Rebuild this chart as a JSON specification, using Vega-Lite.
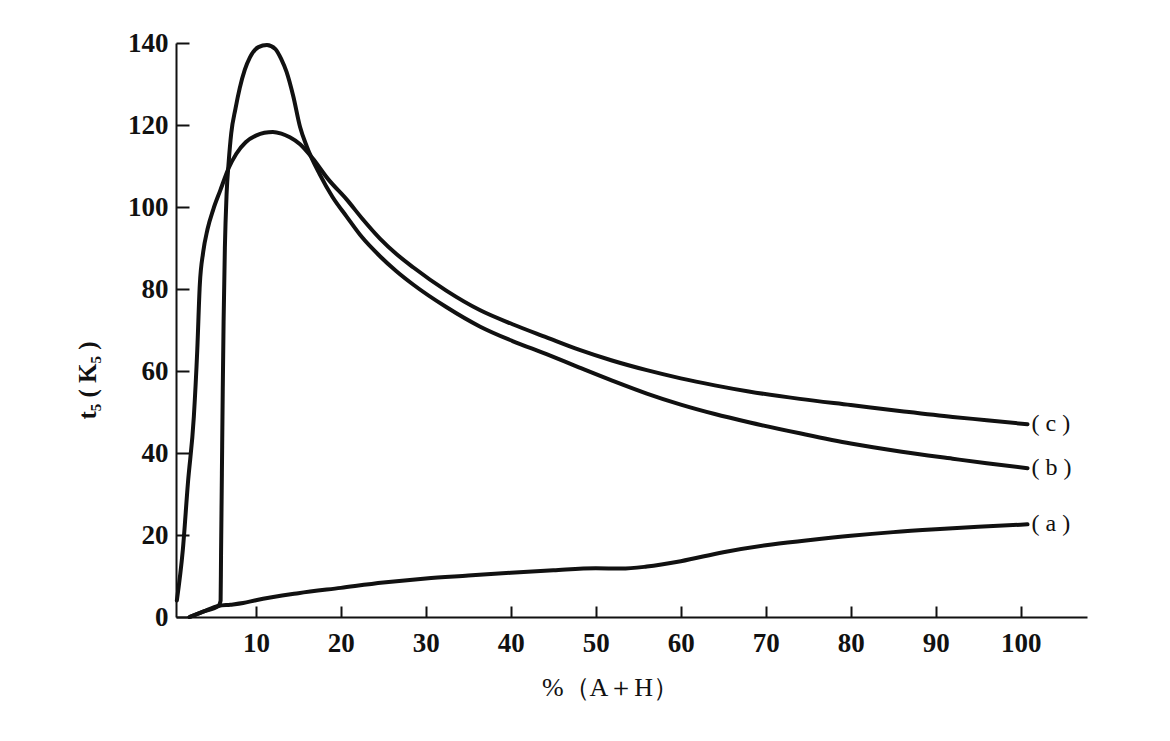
{
  "$schema": "https://vega.github.io/schema/vega-lite/v6.json",
  "width": 911,
  "height": 574,
  "autosize": "none",
  "padding": {"left": 176, "top": 43, "right": 83, "bottom": 124},
  "background": "white",
  "config": {
    "view": {"stroke": null},
    "font": "Liberation Serif",
    "axis": {"grid": false, "domainColor": "#111", "domainWidth": 2, "tickColor": "#111", "tickWidth": 2, "labelColor": "#111", "titleColor": "#111", "labelFont": "Liberation Serif", "titleFont": "Liberation Serif", "labelFontSize": 27, "labelFontWeight": "bold", "titleFontSize": 25, "titleFontWeight": "bold"}
  },
  "datasets": {
    "curves": [
      {"s": "a", "x": 2.2, "y": 0}, {"s": "a", "x": 3.8, "y": 1.3}, {"s": "a", "x": 5.6, "y": 2.7}, {"s": "a", "x": 7, "y": 3.0},
      {"s": "a", "x": 8.5, "y": 3.4}, {"s": "a", "x": 10, "y": 4.1}, {"s": "a", "x": 15, "y": 5.8}, {"s": "a", "x": 20, "y": 7.1},
      {"s": "a", "x": 25, "y": 8.4}, {"s": "a", "x": 30, "y": 9.4}, {"s": "a", "x": 35, "y": 10.1}, {"s": "a", "x": 40, "y": 10.8},
      {"s": "a", "x": 45, "y": 11.4}, {"s": "a", "x": 50, "y": 11.9}, {"s": "a", "x": 53, "y": 11.8}, {"s": "a", "x": 56, "y": 12.3},
      {"s": "a", "x": 60, "y": 13.6}, {"s": "a", "x": 65, "y": 15.8}, {"s": "a", "x": 70, "y": 17.5}, {"s": "a", "x": 75, "y": 18.7},
      {"s": "a", "x": 80, "y": 19.8}, {"s": "a", "x": 85, "y": 20.7}, {"s": "a", "x": 90, "y": 21.4}, {"s": "a", "x": 95, "y": 22},
      {"s": "a", "x": 100.8, "y": 22.6},

      {"s": "b", "x": 2.2, "y": 0}, {"s": "b", "x": 3.8, "y": 1.3}, {"s": "b", "x": 5.6, "y": 2.7}, {"s": "b", "x": 5.85, "y": 4},
      {"s": "b", "x": 5.9, "y": 15}, {"s": "b", "x": 6.0, "y": 35}, {"s": "b", "x": 6.1, "y": 55}, {"s": "b", "x": 6.2, "y": 72},
      {"s": "b", "x": 6.35, "y": 90}, {"s": "b", "x": 6.55, "y": 103}, {"s": "b", "x": 6.8, "y": 111}, {"s": "b", "x": 7.1, "y": 118},
      {"s": "b", "x": 7.6, "y": 124}, {"s": "b", "x": 8.1, "y": 129}, {"s": "b", "x": 8.7, "y": 133.5}, {"s": "b", "x": 9.3, "y": 136.5},
      {"s": "b", "x": 10.3, "y": 139}, {"s": "b", "x": 11.3, "y": 139.5}, {"s": "b", "x": 12.3, "y": 138.5}, {"s": "b", "x": 13.0, "y": 136},
      {"s": "b", "x": 13.6, "y": 133}, {"s": "b", "x": 14.4, "y": 127}, {"s": "b", "x": 15.2, "y": 119.5}, {"s": "b", "x": 16.0, "y": 114.7},
      {"s": "b", "x": 17.5, "y": 108}, {"s": "b", "x": 19, "y": 102.5}, {"s": "b", "x": 20.7, "y": 97.6}, {"s": "b", "x": 22.5, "y": 92.6},
      {"s": "b", "x": 24.6, "y": 88}, {"s": "b", "x": 26.5, "y": 84.4}, {"s": "b", "x": 28.5, "y": 81.1}, {"s": "b", "x": 32.4, "y": 75.6},
      {"s": "b", "x": 36.4, "y": 70.8}, {"s": "b", "x": 40.2, "y": 67.3}, {"s": "b", "x": 44.2, "y": 64.1}, {"s": "b", "x": 48, "y": 60.9},
      {"s": "b", "x": 52, "y": 57.6}, {"s": "b", "x": 56, "y": 54.5}, {"s": "b", "x": 60, "y": 51.8}, {"s": "b", "x": 64, "y": 49.5},
      {"s": "b", "x": 68, "y": 47.5}, {"s": "b", "x": 74, "y": 44.8}, {"s": "b", "x": 80, "y": 42.3}, {"s": "b", "x": 86, "y": 40.3},
      {"s": "b", "x": 92, "y": 38.6}, {"s": "b", "x": 96, "y": 37.5}, {"s": "b", "x": 100.8, "y": 36.3},

      {"s": "c", "x": 0.7, "y": 4}, {"s": "c", "x": 1.4, "y": 16.3}, {"s": "c", "x": 2.0, "y": 32.6}, {"s": "c", "x": 2.7, "y": 48.9},
      {"s": "c", "x": 3.1, "y": 65}, {"s": "c", "x": 3.4, "y": 81}, {"s": "c", "x": 3.8, "y": 89}, {"s": "c", "x": 4.3, "y": 94.5},
      {"s": "c", "x": 5.0, "y": 99.5}, {"s": "c", "x": 5.8, "y": 104}, {"s": "c", "x": 6.8, "y": 109.5}, {"s": "c", "x": 7.7, "y": 113},
      {"s": "c", "x": 8.8, "y": 115.8}, {"s": "c", "x": 10, "y": 117.4}, {"s": "c", "x": 11, "y": 118.1}, {"s": "c", "x": 12, "y": 118.3},
      {"s": "c", "x": 13, "y": 117.9}, {"s": "c", "x": 14, "y": 117}, {"s": "c", "x": 15.2, "y": 115.3}, {"s": "c", "x": 16.7, "y": 111.8},
      {"s": "c", "x": 18.5, "y": 106.8}, {"s": "c", "x": 20.7, "y": 101.8}, {"s": "c", "x": 22.5, "y": 97.2}, {"s": "c", "x": 24.6, "y": 92.3},
      {"s": "c", "x": 26.5, "y": 88.6}, {"s": "c", "x": 28.5, "y": 85.3}, {"s": "c", "x": 32.4, "y": 79.6}, {"s": "c", "x": 36.4, "y": 74.8},
      {"s": "c", "x": 40.2, "y": 71.4}, {"s": "c", "x": 44.2, "y": 68.2}, {"s": "c", "x": 48, "y": 65.2}, {"s": "c", "x": 52, "y": 62.5},
      {"s": "c", "x": 56, "y": 60.2}, {"s": "c", "x": 60, "y": 58.2}, {"s": "c", "x": 64, "y": 56.5}, {"s": "c", "x": 68, "y": 55},
      {"s": "c", "x": 74, "y": 53.2}, {"s": "c", "x": 80, "y": 51.7}, {"s": "c", "x": 86, "y": 50.2}, {"s": "c", "x": 92, "y": 48.8},
      {"s": "c", "x": 96, "y": 48}, {"s": "c", "x": 100.8, "y": 47}
    ],
    "labels": [
      {"label": "( a )", "x": 100.8, "y": 22.6},
      {"label": "( b )", "x": 100.8, "y": 36.3},
      {"label": "( c )", "x": 100.8, "y": 47}
    ]
  },
  "layer": [
    {
      "data": {"name": "curves"},
      "mark": {"type": "line", "interpolate": "monotone", "stroke": "#111", "strokeWidth": 4, "strokeCap": "round", "strokeJoin": "round"},
      "encoding": {
        "x": {
          "field": "x", "type": "quantitative",
          "scale": {"domain": [0.6, 107.8], "nice": false, "zero": false},
          "axis": {"values": [10, 20, 30, 40, 50, 60, 70, 80, 90, 100], "tickSize": -11, "labelPadding": 24, "title": "%（A＋H）", "titleFontSize": 26, "titleFontWeight": "normal", "titleX": 434, "titleY": 70, "titleAlign": "center", "titleBaseline": "middle"}
        },
        "y": {
          "field": "y", "type": "quantitative",
          "scale": {"domain": [0, 140], "nice": false},
          "axis": {"values": [0, 20, 40, 60, 80, 100, 120, 140], "tickSize": -13, "labelPadding": 21, "title": "t₅ ( K₅ )", "titleX": -89, "titleY": 337, "titleAlign": "center", "titleBaseline": "middle"}
        },
        "detail": {"field": "s"}
      }
    },
    {
      "data": {"name": "labels"},
      "mark": {"type": "text", "align": "left", "baseline": "middle", "dx": 4, "fontSize": 24, "font": "Liberation Serif", "color": "#111"},
      "encoding": {
        "x": {"field": "x", "type": "quantitative"},
        "y": {"field": "y", "type": "quantitative"},
        "text": {"field": "label"}
      }
    }
  ]
}
